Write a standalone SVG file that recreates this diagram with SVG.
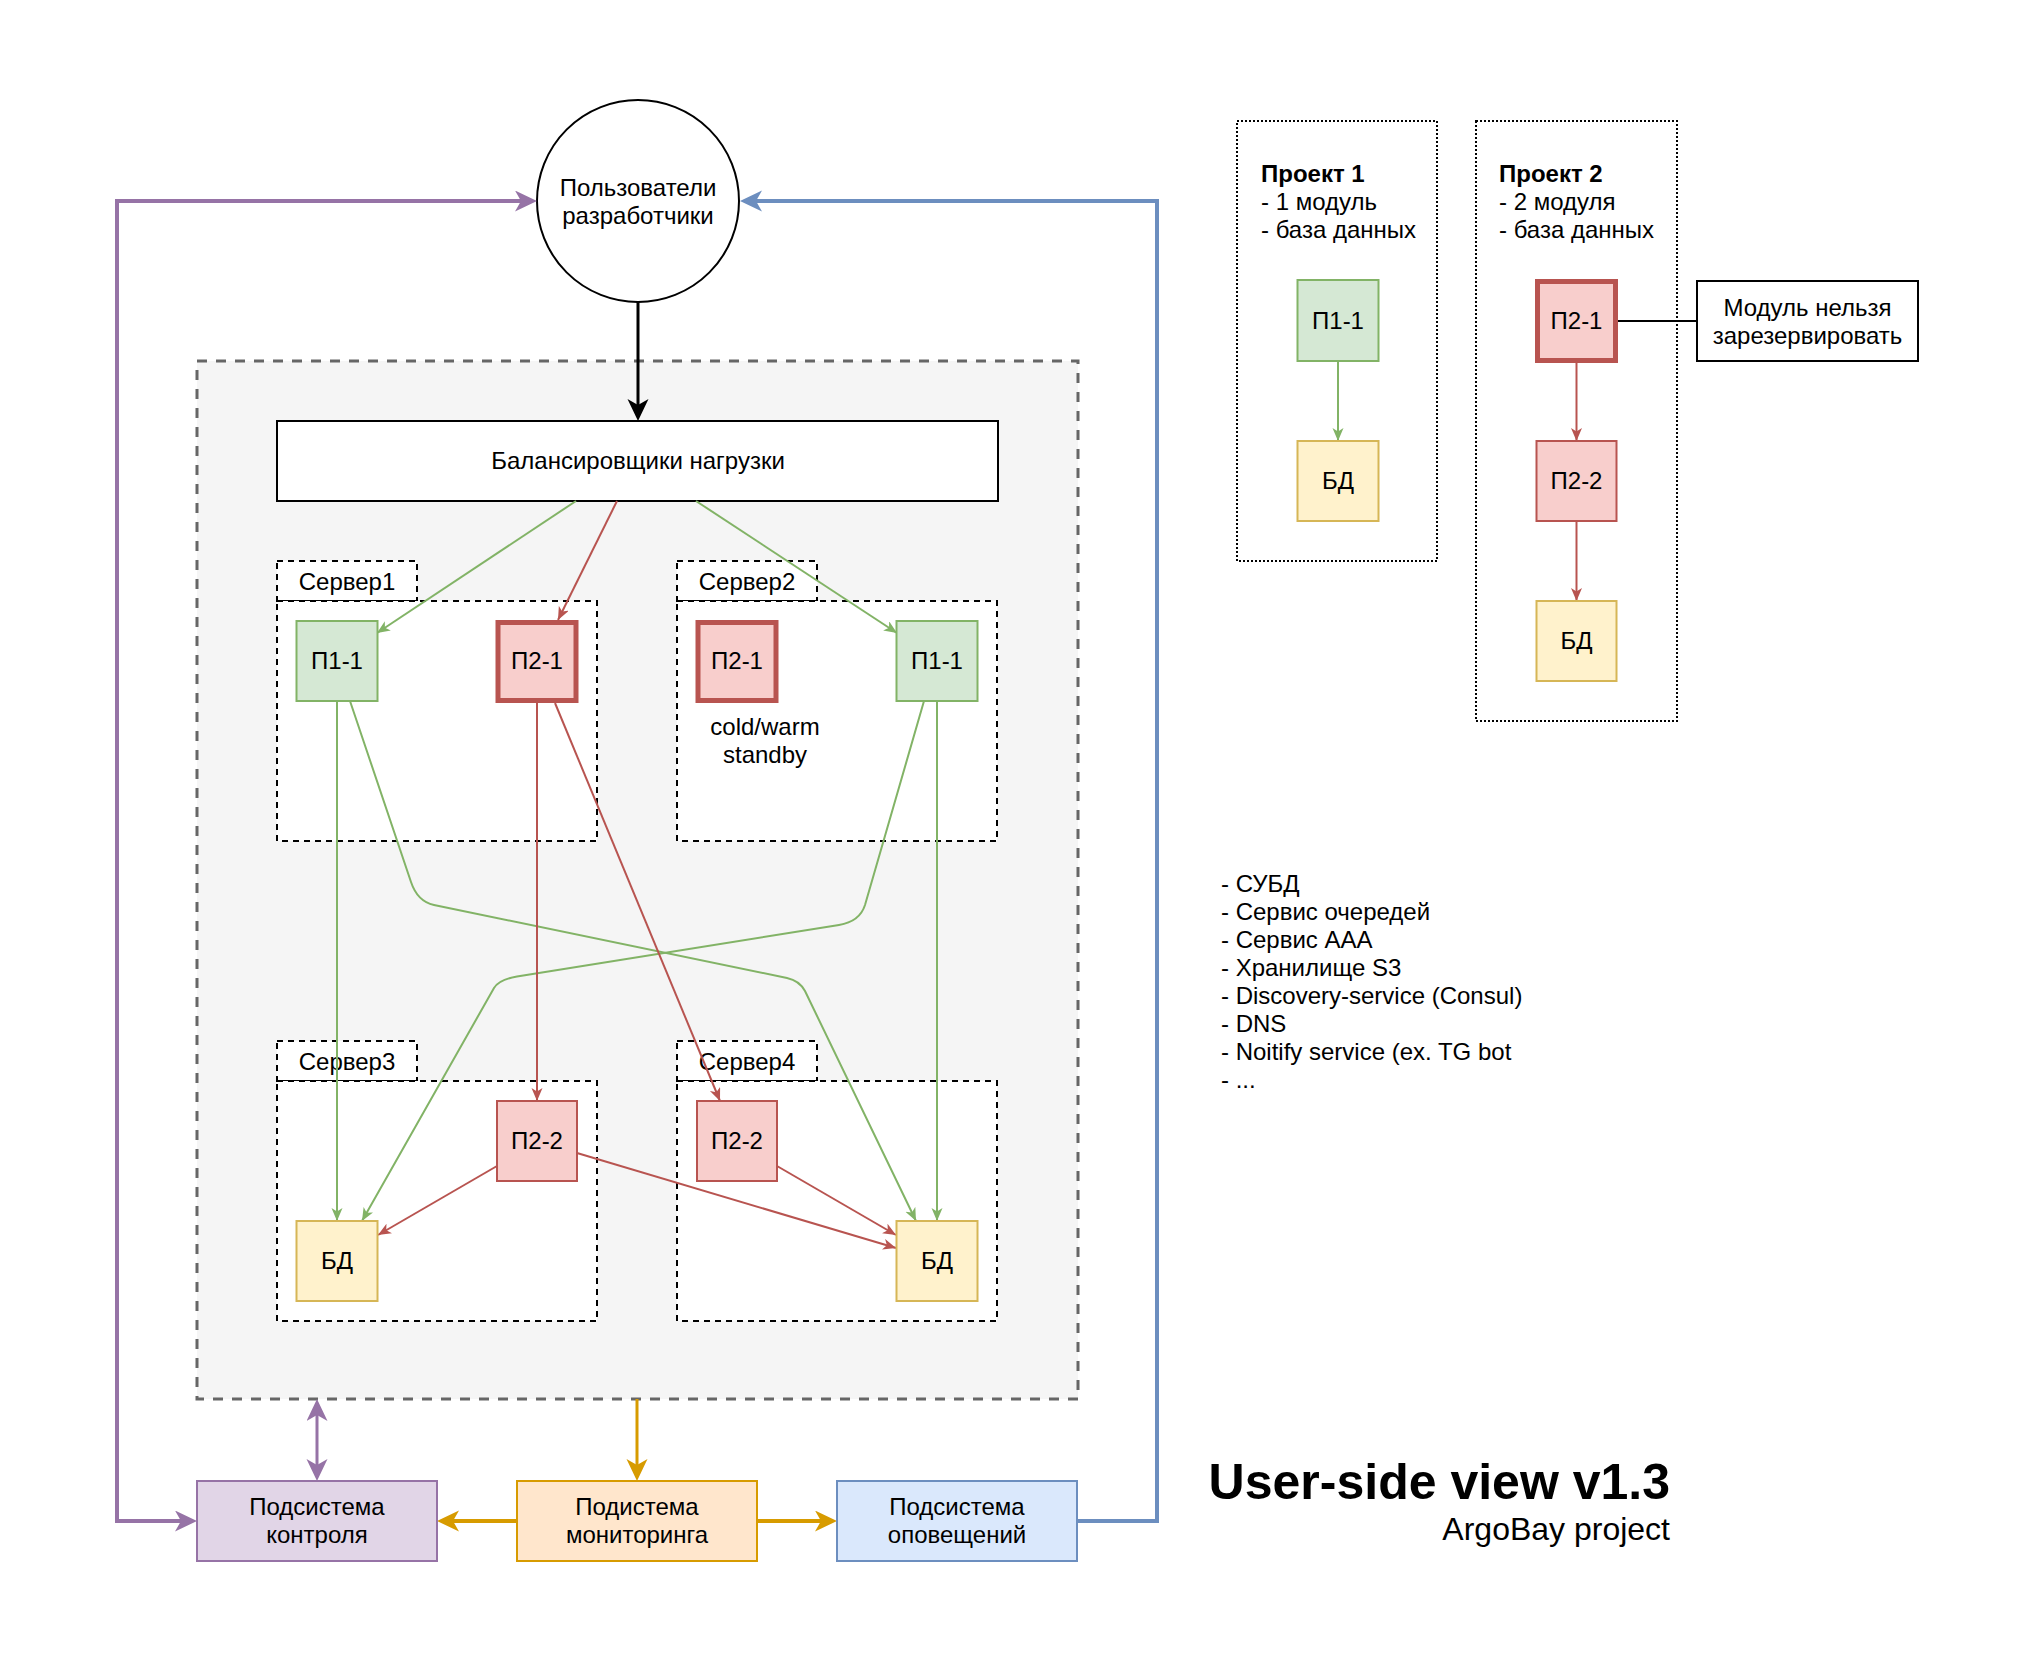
<svg xmlns="http://www.w3.org/2000/svg" width="2018" height="1662" viewBox="0 0 2018 1662">
<style>
text{font-family:"Liberation Sans",Arial,Helvetica,sans-serif;font-size:24px;fill:#000}
.c{text-anchor:middle}
.b{font-weight:bold}
.srv{fill:#fff;stroke:#000;stroke-width:2;stroke-dasharray:6 5}
.prj{fill:none;stroke:#000;stroke-width:2;stroke-dasharray:2 2}
.g{fill:#d5e8d4;stroke:#82b366;stroke-width:2}
.r{fill:#f8cecc;stroke:#b85450;stroke-width:2}
.rt{fill:#f8cecc;stroke:#b85450;stroke-width:5}
.y{fill:#fff2cc;stroke:#d6b656;stroke-width:2}
.eg{fill:none;stroke:#82b366;stroke-width:2;marker-end:url(#mg)}
.er{fill:none;stroke:#b85450;stroke-width:2;marker-end:url(#mr)}
</style>
<defs>
<marker id="mg" markerUnits="userSpaceOnUse" markerWidth="14" markerHeight="12" refX="13" refY="5.5" orient="auto"><path d="M0,0 L13,5.5 L0,11 L3.5,5.5 Z" fill="#82b366"/></marker>
<marker id="mr" markerUnits="userSpaceOnUse" markerWidth="14" markerHeight="12" refX="13" refY="5.5" orient="auto"><path d="M0,0 L13,5.5 L0,11 L3.5,5.5 Z" fill="#b85450"/></marker>
<marker id="mk" markerUnits="userSpaceOnUse" markerWidth="23" markerHeight="22" refX="7" refY="10.5" orient="auto"><path d="M0,0 L22,10.5 L0,21 L6,10.5 Z" fill="#000"/></marker>
<marker id="mp" markerUnits="userSpaceOnUse" markerWidth="23" markerHeight="22" refX="7" refY="10.5" orient="auto-start-reverse"><path d="M0,0 L22,10.5 L0,21 L6,10.5 Z" fill="#9673a6"/></marker>
<marker id="mo" markerUnits="userSpaceOnUse" markerWidth="23" markerHeight="22" refX="7" refY="10.5" orient="auto"><path d="M0,0 L22,10.5 L0,21 L6,10.5 Z" fill="#d79b00"/></marker>
<marker id="mb" markerUnits="userSpaceOnUse" markerWidth="23" markerHeight="22" refX="7" refY="10.5" orient="auto"><path d="M0,0 L22,10.5 L0,21 L6,10.5 Z" fill="#6c8ebf"/></marker>
</defs>
<rect width="2018" height="1662" fill="#fff"/>

<g id="cluster">
<rect x="197" y="361" width="881" height="1038" fill="#f5f5f5" stroke="#666666" stroke-width="3" stroke-dasharray="10 9"/>
</g>

<g id="server1">
<rect class="srv" x="277" y="561" width="140" height="40"/>
<text class="c" x="347" y="590">Сервер1</text>
<rect class="srv" x="277" y="601" width="320" height="240"/>
</g>
<g id="server2">
<rect class="srv" x="677" y="561" width="140" height="40"/>
<text class="c" x="747" y="590">Сервер2</text>
<rect class="srv" x="677" y="601" width="320" height="240"/>
<text class="c" x="765" y="735">cold/warm</text>
<text class="c" x="765" y="763">standby</text>
</g>
<g id="server3">
<rect class="srv" x="277" y="1041" width="140" height="40"/>
<text class="c" x="347" y="1070">Сервер3</text>
<rect class="srv" x="277" y="1081" width="320" height="240"/>
</g>
<g id="server4">
<rect class="srv" x="677" y="1041" width="140" height="40"/>
<text class="c" x="747" y="1070">Сервер4</text>
<rect class="srv" x="677" y="1081" width="320" height="240"/>
</g>

<g id="users">
<circle cx="638" cy="201" r="101" fill="#fff" stroke="#000" stroke-width="2"/>
<text class="c" x="638" y="196">Пользователи</text>
<text class="c" x="638" y="224">разработчики</text>
</g>

<g id="balancers">
<rect x="277" y="421" width="721" height="80" fill="#fff" stroke="#000" stroke-width="2"/>
<text class="c" x="638" y="469">Балансировщики нагрузки</text>
</g>

<g id="connectors">
<path d="M638,302 L638,406" fill="none" stroke="#000" stroke-width="3" marker-end="url(#mk)"/>
<path class="eg" d="M576,501 L377,633"/>
<path class="eg" d="M696,501 L897,633"/>
<path class="er" d="M617,501 L558,620"/>
<path class="eg" d="M337,701 L337,1221"/>
<path class="eg" d="M350,701 L411,882 Q417.5,901.5 434,905 L787,978 Q799.5,980.7 805,991 L916,1221"/>
<path class="eg" d="M924,701 L865,905 Q859.7,921.6 839,925 L517,976.5 Q499.2,979.5 494,988 L362,1221"/>
<path class="eg" d="M937,701 L937,1221"/>
<path class="er" d="M537,703 L537,1101"/>
<path class="er" d="M555,703 L720,1101"/>
<path class="er" d="M497,1166 L378,1235"/>
<path class="er" d="M577,1153 L896,1248"/>
<path class="er" d="M777,1166 L896,1235"/>
<path class="eg" d="M1338,361 L1338,441"/>
<path class="er" d="M1576.5,363 L1576.5,441"/>
<path class="er" d="M1576.5,521 L1576.5,601"/>
<path d="M1618,321 L1697,321" fill="none" stroke="#000" stroke-width="2"/>
<path d="M182,1521 L117,1521 L117,201 L522,201" fill="none" stroke="#9673a6" stroke-width="4" marker-start="url(#mp)" marker-end="url(#mp)"/>
<path d="M1077,1521 L1157,1521 L1157,201 L755,201" fill="none" stroke="#6c8ebf" stroke-width="4" marker-end="url(#mb)"/>
<path d="M317,1414 L317,1466" fill="none" stroke="#9673a6" stroke-width="3" marker-start="url(#mp)" marker-end="url(#mp)"/>
<path d="M637,1399 L637,1466" fill="none" stroke="#d79b00" stroke-width="3" marker-end="url(#mo)"/>
<path d="M517,1521 L452,1521" fill="none" stroke="#d79b00" stroke-width="4" marker-end="url(#mo)"/>
<path d="M757,1521 L822,1521" fill="none" stroke="#d79b00" stroke-width="4" marker-end="url(#mo)"/>
</g>

<g id="s1-p11"><rect class="g" x="296.5" y="621" width="81" height="80"/><text class="c" x="337" y="669">П1-1</text></g>
<g id="s1-p21"><rect class="rt" x="498" y="622.5" width="78" height="78"/><text class="c" x="537" y="669">П2-1</text></g>
<g id="s2-p21"><rect class="rt" x="698" y="622.5" width="78" height="78"/><text class="c" x="737" y="669">П2-1</text></g>
<g id="s2-p11"><rect class="g" x="896.5" y="621" width="81" height="80"/><text class="c" x="937" y="669">П1-1</text></g>
<g id="s3-p22"><rect class="r" x="497" y="1101" width="80" height="80"/><text class="c" x="537" y="1149">П2-2</text></g>
<g id="s3-db"><rect class="y" x="296.5" y="1221" width="81" height="80"/><text class="c" x="337" y="1269">БД</text></g>
<g id="s4-p22"><rect class="r" x="697" y="1101" width="80" height="80"/><text class="c" x="737" y="1149">П2-2</text></g>
<g id="s4-db"><rect class="y" x="896.5" y="1221" width="81" height="80"/><text class="c" x="937" y="1269">БД</text></g>

<g id="control"><rect x="197" y="1481" width="240" height="80" fill="#e1d5e7" stroke="#9673a6" stroke-width="2"/><text class="c" x="317" y="1515">Подсистема</text><text class="c" x="317" y="1543">контроля</text></g>
<g id="monitoring"><rect x="517" y="1481" width="240" height="80" fill="#ffe6cc" stroke="#d79b00" stroke-width="2"/><text class="c" x="637" y="1515">Подистема</text><text class="c" x="637" y="1543">мониторинга</text></g>
<g id="notify"><rect x="837" y="1481" width="240" height="80" fill="#dae8fc" stroke="#6c8ebf" stroke-width="2"/><text class="c" x="957" y="1515">Подсистема</text><text class="c" x="957" y="1543">оповещений</text></g>

<g id="project1">
<rect class="prj" x="1237" y="121" width="200" height="440"/>
<text class="b" x="1261" y="182">Проект 1</text>
<text x="1261" y="210">- 1 модуль</text>
<text x="1261" y="238">- база данных</text>
</g>
<g id="p1-p11"><rect class="g" x="1297.5" y="280" width="81" height="81"/><text class="c" x="1338" y="329">П1-1</text></g>
<g id="p1-db"><rect class="y" x="1297.5" y="441" width="81" height="80"/><text class="c" x="1338" y="489">БД</text></g>

<g id="project2">
<rect class="prj" x="1476" y="121" width="201" height="600"/>
<text class="b" x="1499" y="182">Проект 2</text>
<text x="1499" y="210">- 2 модуля</text>
<text x="1499" y="238">- база данных</text>
</g>
<g id="p2-p21"><rect class="rt" x="1537.5" y="281.5" width="78" height="79"/><text class="c" x="1576.5" y="329">П2-1</text></g>
<g id="p2-p22"><rect class="r" x="1536.5" y="441" width="80" height="80"/><text class="c" x="1576.5" y="489">П2-2</text></g>
<g id="p2-db"><rect class="y" x="1536.5" y="601" width="80" height="80"/><text class="c" x="1576.5" y="649">БД</text></g>

<g id="note">
<rect x="1697" y="281" width="221" height="80" fill="#fff" stroke="#000" stroke-width="2"/>
<text class="c" x="1807.5" y="316">Модуль нельзя</text>
<text class="c" x="1807.5" y="344">зарезервировать</text>
</g>

<g id="services">
<text x="1221" y="892">- СУБД</text>
<text x="1221" y="920">- Сервис очередей</text>
<text x="1221" y="948">- Сервис AAA</text>
<text x="1221" y="976">- Хранилище S3</text>
<text x="1221" y="1004">- Discovery-service (Consul)</text>
<text x="1221" y="1032">- DNS</text>
<text x="1221" y="1060">- Noitify service (ex. TG bot</text>
<text x="1221" y="1088">- ...</text>
</g>

<g id="title">
<text class="b" x="1670" y="1499" text-anchor="end" style="font-size:50px">User-side view v1.3</text>
<text x="1670" y="1540" text-anchor="end" style="font-size:32px">ArgoBay project</text>
</g>
</svg>
